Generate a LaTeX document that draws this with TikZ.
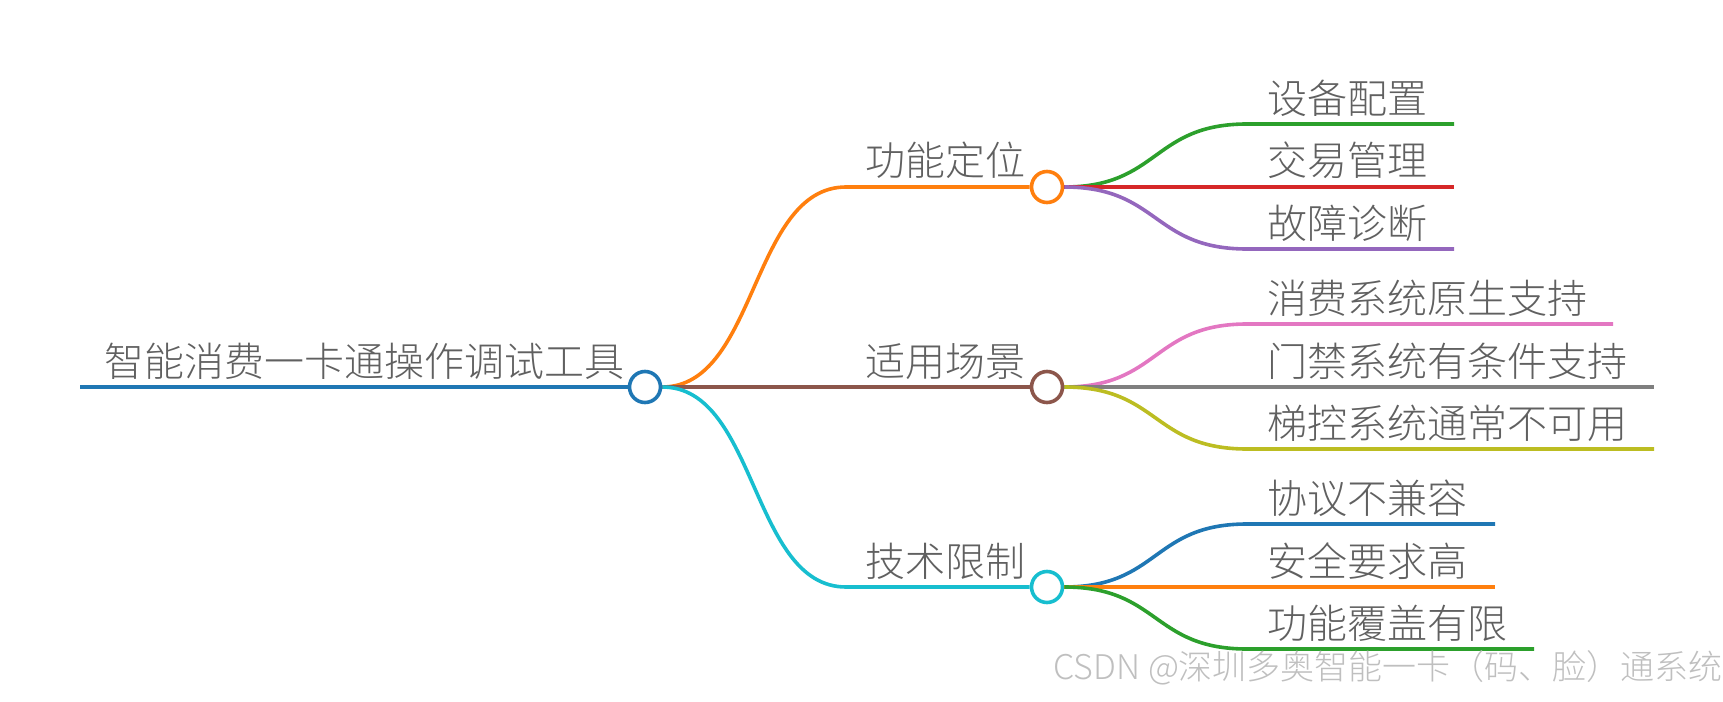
\documentclass[tikz,border=0pt]{standalone}
\usepackage{fontspec}
\setmainfont{Noto Sans CJK SC}[UprightFont=* Light]
\usetikzlibrary{positioning}
\definecolor{mapText}{RGB}{96,96,96}
\definecolor{mapBlue}{HTML}{1F77B4}
\definecolor{mapOrange}{HTML}{FF7F0E}
\definecolor{mapGreen}{HTML}{2CA02C}
\definecolor{mapRed}{HTML}{D62728}
\definecolor{mapPurple}{HTML}{9467BD}
\definecolor{mapBrown}{HTML}{8C564B}
\definecolor{mapPink}{HTML}{E377C2}
\definecolor{mapGray}{HTML}{7F7F7F}
\definecolor{mapOlive}{HTML}{BCBD22}
\definecolor{mapCyan}{HTML}{17BECF}

\begin{document}
\begin{tikzpicture}[
    x=0.5pt, y=-0.5pt,
    topic/.style={anchor=base west, inner sep=0pt, text=mapText, font=\fontsize{20}{24}\selectfont},
    knot/.style={circle, draw, fill=white, line width=1.8pt, minimum size=15.5pt, inner sep=0pt},
    branch/.style={line width=1.8pt}
]
    \useasboundingbox (0,0) rectangle (1723,701);

    % root
    \coordinate (rootStart) at (80,387);
    \node[knot, draw=mapBlue] (root) at (645,387) {};
    \node[topic] (rootText) at (104,376) {智能消费一卡通操作调试工具};
    \draw[branch, mapBlue] (rootStart) -- (root);

    % first level
    \node[knot, draw=mapOrange] (func) at (1047,187) {};
    \node[knot, draw=mapBrown] (scene) at (1047,387) {};
    \node[knot, draw=mapCyan] (limit) at (1047,587) {};
    \node[topic] (funcText) at (865,176) {功能定位};
    \node[topic] (sceneText) at (865,376) {适用场景};
    \node[topic] (limitText) at (865,576) {技术限制};
    \coordinate (funcBend) at (846,187);
    \coordinate (sceneBend) at (846,387);
    \coordinate (limitBend) at (846,587);

    \draw[branch, mapOrange] (root.east) .. controls +(95,0) and +(-95,0) .. (funcBend) -- (func);
    \draw[branch, mapBrown] (root.east) -- (sceneBend) -- (scene);
    \draw[branch, mapCyan] (root.east) .. controls +(95,0) and +(-95,0) .. (limitBend) -- (limit);

    % second level: 功能定位
    \coordinate (devBend) at (1247,124);
    \coordinate (devEnd) at (1454,124);
    \coordinate (tradeBend) at (1247,187);
    \coordinate (tradeEnd) at (1454,187);
    \coordinate (faultBend) at (1247,249);
    \coordinate (faultEnd) at (1454,249);
    \node[topic] (devText) at (1267,113) {设备配置};
    \node[topic] (tradeText) at (1267,176) {交易管理};
    \node[topic] (faultText) at (1267,238) {故障诊断};
    \draw[branch, mapGreen] (func.east) .. controls +(95,0) and +(-95,0) .. (devBend) -- (devEnd);
    \draw[branch, mapRed] (func.east) -- (tradeBend) -- (tradeEnd);
    \draw[branch, mapPurple] (func.east) .. controls +(95,0) and +(-95,0) .. (faultBend) -- (faultEnd);

    % second level: 适用场景
    \coordinate (payBend) at (1247,324);
    \coordinate (payEnd) at (1613,324);
    \coordinate (doorBend) at (1247,387);
    \coordinate (doorEnd) at (1654,387);
    \coordinate (liftBend) at (1247,449);
    \coordinate (liftEnd) at (1654,449);
    \node[topic] (payText) at (1267,313) {消费系统原生支持};
    \node[topic] (doorText) at (1267,376) {门禁系统有条件支持};
    \node[topic] (liftText) at (1267,438) {梯控系统通常不可用};
    \draw[branch, mapPink] (scene.east) .. controls +(95,0) and +(-95,0) .. (payBend) -- (payEnd);
    \draw[branch, mapGray] (scene.east) -- (doorBend) -- (doorEnd);
    \draw[branch, mapOlive] (scene.east) .. controls +(95,0) and +(-95,0) .. (liftBend) -- (liftEnd);

    % second level: 技术限制
    \coordinate (protoBend) at (1247,524);
    \coordinate (protoEnd) at (1495,524);
    \coordinate (safeBend) at (1247,587);
    \coordinate (safeEnd) at (1495,587);
    \coordinate (coverBend) at (1247,649);
    \coordinate (coverEnd) at (1534,649);
    \node[topic] (protoText) at (1267,513) {协议不兼容};
    \node[topic] (safeText) at (1267,576) {安全要求高};
    \node[topic] (coverText) at (1267,638) {功能覆盖有限};
    \draw[branch, mapBlue] (limit.east) .. controls +(95,0) and +(-95,0) .. (protoBend) -- (protoEnd);
    \draw[branch, mapOrange] (limit.east) -- (safeBend) -- (safeEnd);
    \draw[branch, mapGreen] (limit.east) .. controls +(95,0) and +(-95,0) .. (coverBend) -- (coverEnd);

    % watermark
    \node[anchor=base west, inner sep=0pt, text=black!25, font=\fontsize{17}{20}\selectfont]
        (mark) at (1053,679) {CSDN @深圳多奥智能一卡（码、脸）通系统};
\end{tikzpicture}
\end{document}
